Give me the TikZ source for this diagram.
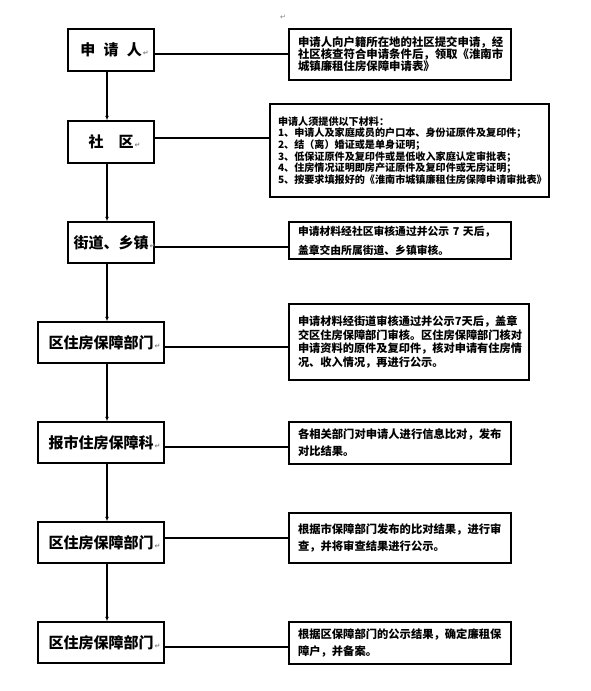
\documentclass[tikz,border=0pt]{standalone}
\usepackage{fontspec}
\setmainfont{Noto Sans CJK SC}
\newfontfamily\markfont{DejaVu Sans}
\usetikzlibrary{arrows.meta}
\tikzset{
  lbox/.style={draw, line width=1.5pt, minimum height=41pt, inner sep=0pt, font=\fontsize{15}{16}\selectfont\bfseries},
  rbox/.style={draw, line width=1.3pt, align=left, inner xsep=9pt, inner ysep=0pt},
  arr/.style={line width=1.3pt, -{Latex[length=4.5pt,width=4pt]}},
  conn/.style={line width=1.3pt},
  pm/.style={text=gray, font=\markfont\fontsize{7}{7}\selectfont, inner sep=0pt}
}
\newcommand{\pmark}{\rlap{\markfont\fontsize{7}{7}\selectfont\color{gray}\,↵}}
\begin{document}
\begin{tikzpicture}[x=1pt,y=-1pt]
\path[use as bounding box, fill=white] (0,0) rectangle (591,691);
\node[pm] (top) at (283,17) {↵};
% left column
\node[lbox, minimum width=86pt, minimum height=42pt] (b1) at (111,50) {申\hspace{0.55em}请\hspace{0.55em}人\pmark};
\node[lbox, minimum width=86pt, minimum height=42pt] (b2) at (111,142) {社\hspace{1em}区\pmark};
\node[lbox, minimum width=86pt] (b3) at (111,242.5) {街道、乡镇\pmark};
\node[lbox, minimum width=126pt] (b4) at (101,342.5) {区住房保障部门\pmark};
\node[lbox, minimum width=126pt] (b5) at (101,442.5) {报市住房保障科\pmark};
\node[lbox, minimum width=126pt] (b6) at (101,542.5) {区住房保障部门\pmark};
\node[lbox, minimum width=126pt] (b7) at (101,642.5) {区住房保障部门\pmark};
% right column
\node[rbox, text width=204pt, minimum height=51pt, font=\fontsize{11.4}{12}\selectfont\bfseries] (r1) at (400,54.5)
  {申请人向户籍所在地的社区提交申请，经\\社区核查符合申请条件后，领取《淮南市\\城镇廉租住房保障申请表》};
\node[rbox, text width=263pt, inner xsep=8pt, minimum height=93pt, font=\fontsize{10.1}{11.6}\selectfont\bfseries] (r2) at (409.5,150.5)
  {申请人须提供以下材料：\\1、申请人及家庭成员的户口本、身份证原件及复印件；\\2、结（离）婚证或是单身证明；\\3、低保证原件及复印件或是低收入家庭认定审批表；\\4、住房情况证明即房产证原件及复印件或无房证明；\\5、按要求填报好的《淮南市城镇廉租住房保障申请审批表》};
\node[rbox, text width=204pt, minimum height=37pt, font=\fontsize{10.8}{19}\selectfont\bfseries] (r3) at (400,240.5)
  {申请材料经社区审核通过并公示 7 天后，\\盖章交由所属街道、乡镇审核。};
\node[rbox, text width=222pt, minimum height=76pt, font=\fontsize{11.2}{13.5}\selectfont\bfseries] (r4) at (409,342)
  {申请材料经街道审核通过并公示7天后，盖章\\交区住房保障部门审核。区住房保障部门核对\\申请资料的原件及复印件，核对申请有住房情\\况、收入情况，再进行公示。};
\node[rbox, text width=204pt, minimum height=42pt, font=\fontsize{11.3}{17}\selectfont\bfseries] (r5) at (400,443)
  {各相关部门对申请人进行信息比对，发布\\对比结果。};
\node[rbox, text width=204pt, minimum height=50pt, font=\fontsize{11.3}{17}\selectfont\bfseries] (r6) at (400,538)
  {根据市保障部门发布的比对结果，进行审\\查，并将审查结果进行公示。};
\node[rbox, text width=204pt, minimum height=42pt, font=\fontsize{11.3}{17}\selectfont\bfseries] (r7) at (400,643)
  {根据区保障部门的公示结果，确定廉租保\\障户，并备案。};
% vertical arrows
\coordinate (ax) at (107,0);
\draw[arr] (b1.south -| ax) -- (b2.north -| ax);
\draw[arr] (b2.south -| ax) -- (b3.north -| ax);
\draw[arr] (b3.south -| ax) -- (b4.north -| ax);
\draw[arr] (b4.south -| ax) -- (b5.north -| ax);
\draw[arr] (b5.south -| ax) -- (b6.north -| ax);
\draw[arr] (b6.south -| ax) -- (b7.north -| ax);
% horizontal connectors
\coordinate (y1) at (0,54);
\coordinate (y2) at (0,138);
\coordinate (y3) at (0,247);
\coordinate (y4) at (0,347);
\coordinate (y5) at (0,447);
\coordinate (y6) at (0,538);
\coordinate (y7) at (0,647);
\draw[conn] (b1.east |- y1) -- (r1.west |- y1);
\draw[conn] (b2.east |- y2) -- (r2.west |- y2);
\draw[conn] (b3.east |- y3) -- (r3.west |- y3);
\draw[conn] (b4.east |- y4) -- (r4.west |- y4);
\draw[conn] (b5.east |- y5) -- (r5.west |- y5);
\draw[conn] (b6.east |- y6) -- (r6.west |- y6);
\draw[conn] (b7.east |- y7) -- (r7.west |- y7);
\end{tikzpicture}
\end{document}
